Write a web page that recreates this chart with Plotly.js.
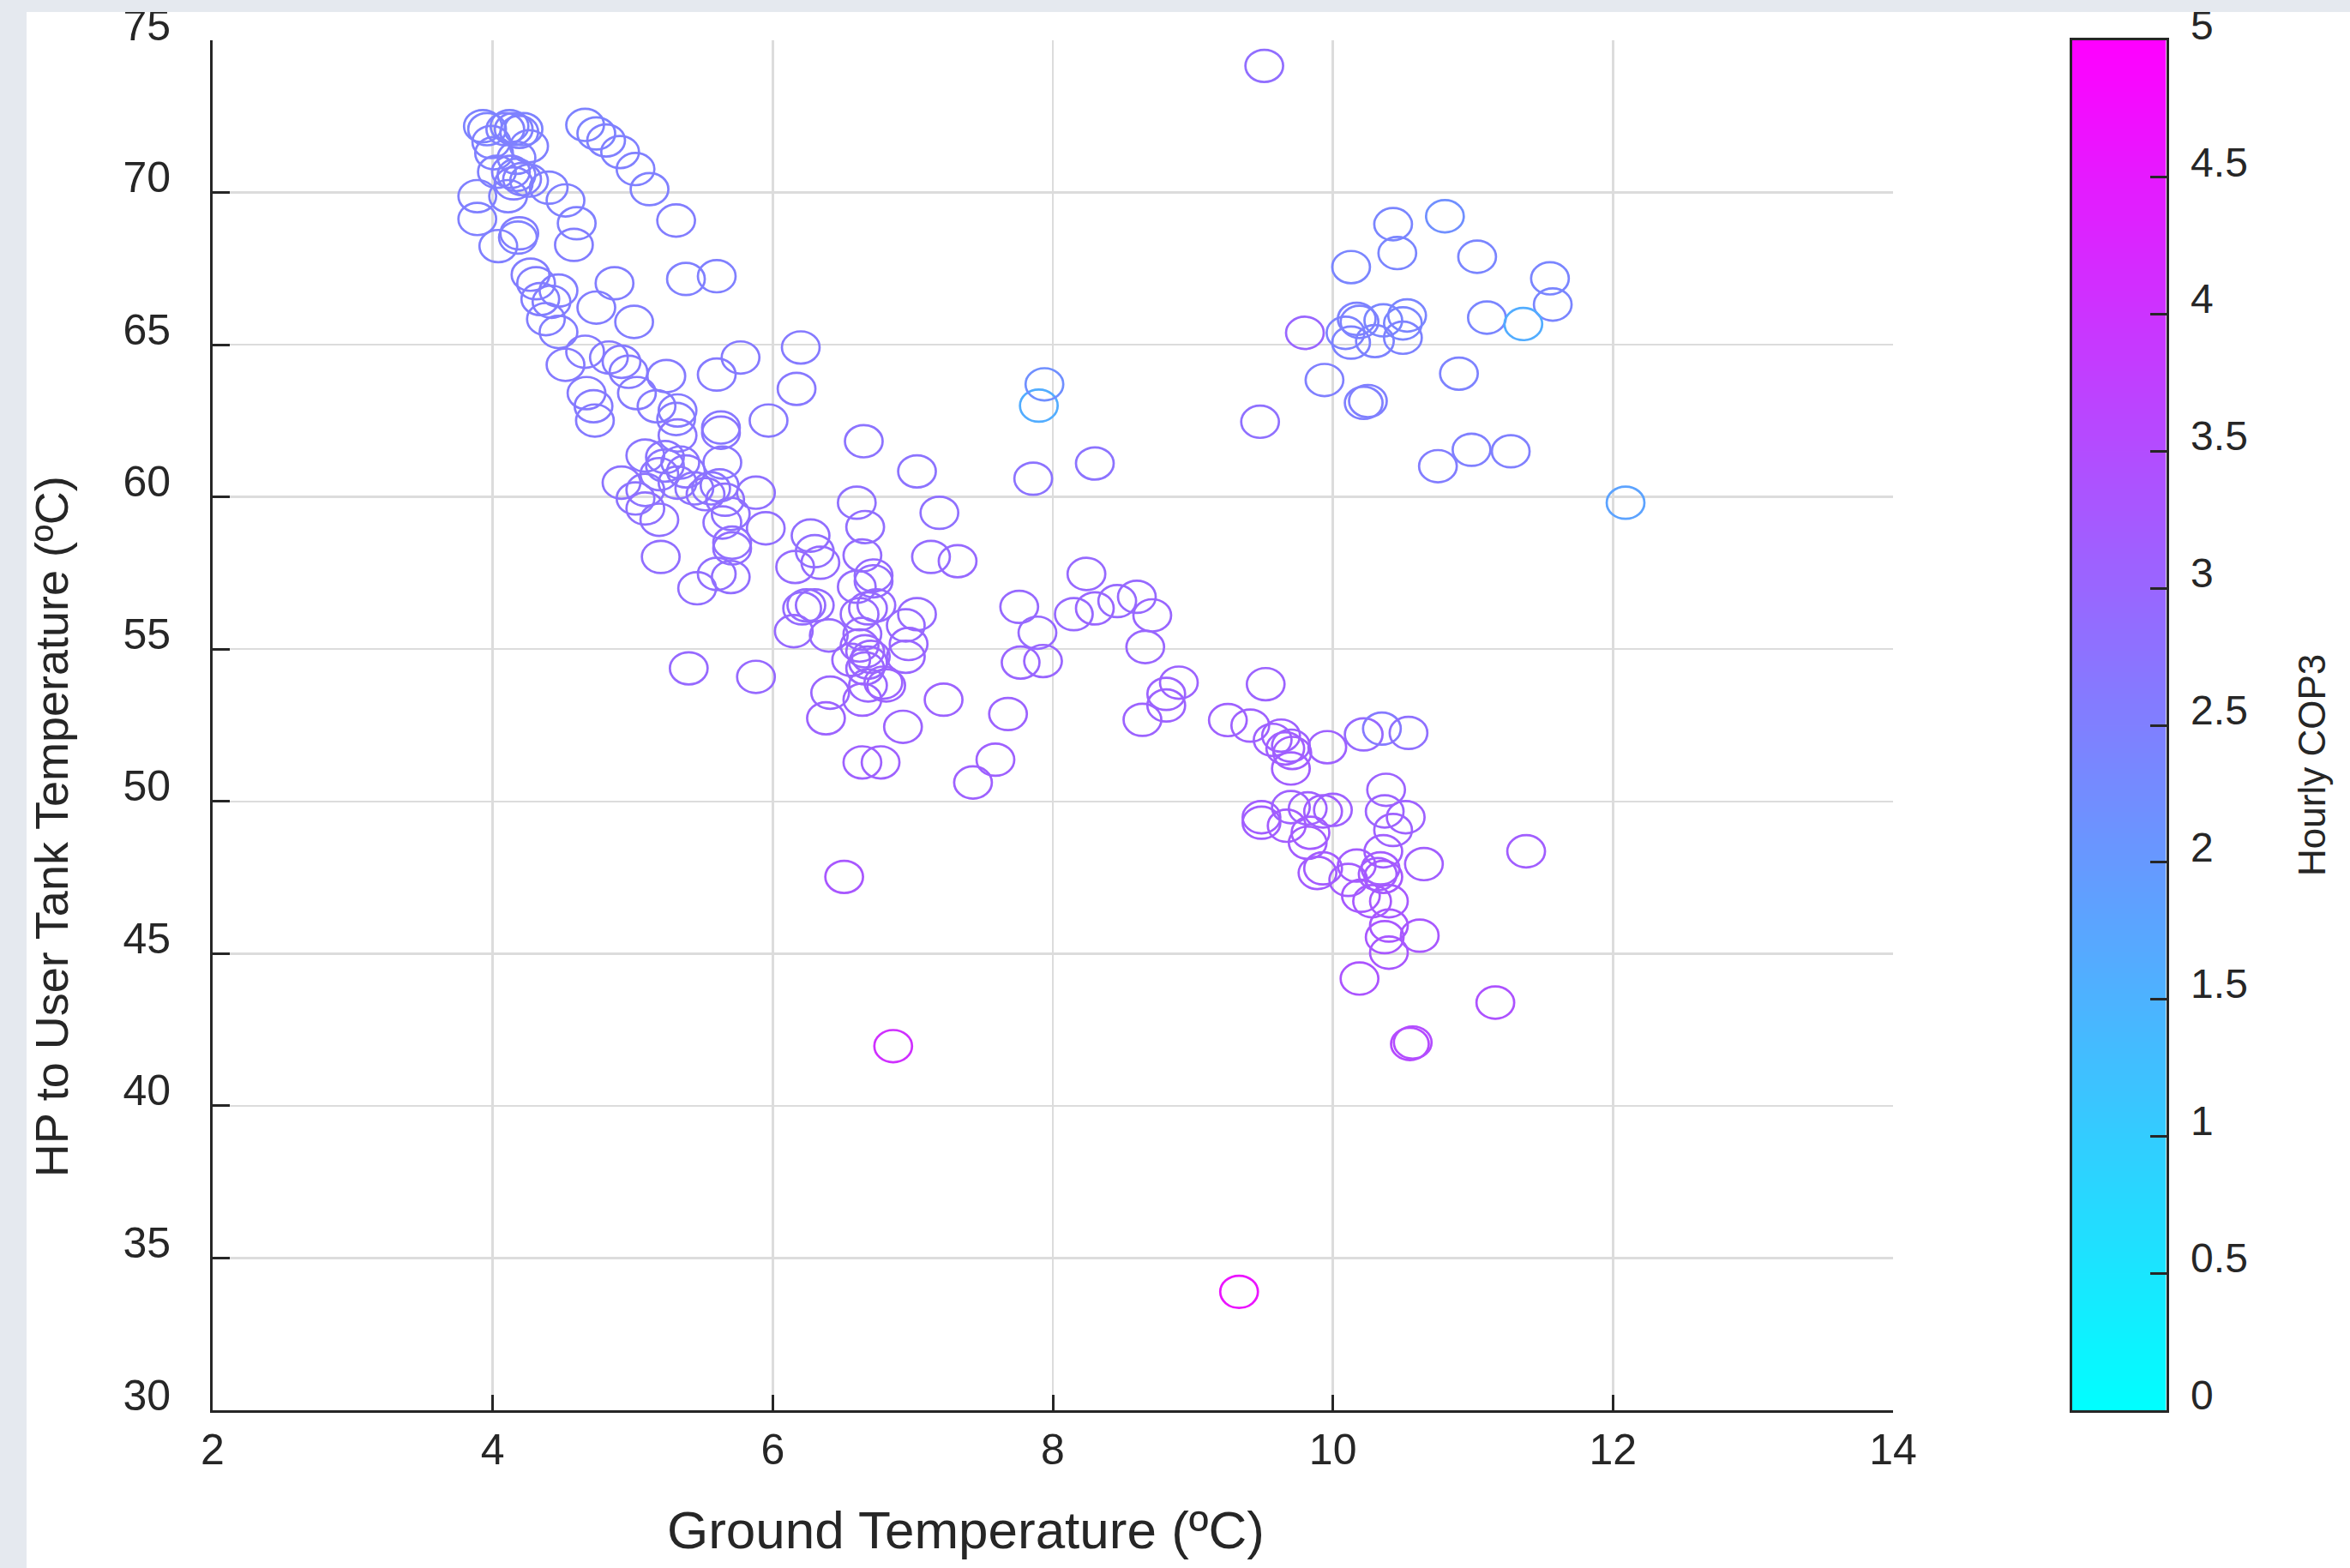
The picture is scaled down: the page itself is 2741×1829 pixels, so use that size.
<!DOCTYPE html>
<html>
<head>
<meta charset="utf-8">
<script src="https://cdn.plot.ly/plotly-3.0.1.min.js"></script>
<style>
  html, body { margin: 0; padding: 0; width: 2741px; height: 1829px; overflow: hidden; background: #e5e9ef; }
  #chart { position: absolute; left: 31px; top: 14px; width: 2710px; height: 1815px; background: #ffffff; }
</style>
</head>
<body>
<div id="chart"></div>
<script>
// Ground temperature (ºC)
const groundTemp = [
  3.93,3.96,4.09,4.12,4.15,4.19,4.22,3.99,4.26,4.01,4.17,4.03,4.13,4.17,4.21,4.26,4.15,3.89,4.11,4.40,
  4.52,3.89,4.19,4.18,4.04,4.60,4.58,4.66,4.74,4.81,4.91,5.02,5.12,5.31,5.38,5.60,4.27,4.31,4.47,4.34,
  4.42,4.38,4.47,4.74,4.87,5.01,4.66,4.83,4.92,4.52,4.97,5.03,5.24,5.17,5.32,5.31,4.67,4.72,4.73,5.60,
  5.77,6.20,6.17,5.63,5.97,
  5.32,5.63,6.65,5.09,5.23,5.34,7.03,4.92,5.02,5.09,5.09,5.19,5.23,5.32,5.38,5.44,5.52,5.56,5.62,5.64,
  5.66,5.70,5.88,5.95,5.64,5.71,5.71,5.19,5.20,5.60,5.70,5.46,5.40,5.88,
  7.86,8.30,6.60,6.66,7.19,6.27,6.30,6.34,6.16,6.64,7.13,7.32,6.60,6.72,6.72,6.24,6.21,6.30,6.15,6.40,
  6.68,6.62,6.74,7.03,6.95,6.64,6.62,6.66,6.70,6.56,6.97,6.95,6.68,6.66,6.79,6.81,6.68,6.41,6.64,6.38,
  6.93,7.22,6.64,6.77,7.43,7.59,7.68,7.76,7.89,7.77,7.93,8.24,8.15,8.30,8.46,8.60,8.71,8.66,8.90,8.81,
  8.81,8.64,6.51,
  9.52,9.25,9.41,9.57,9.63,9.66,9.70,9.70,9.71,9.96,10.22,10.35,10.54,10.38,10.37,10.52,10.43,10.36,10.65,9.49,
  9.49,9.70,9.82,9.93,10.00,9.67,9.84,9.82,9.93,9.89,10.17,10.11,10.20,10.28,10.40,10.32,10.34,10.36,10.40,10.37,
  10.62,10.40,10.19,11.38,11.16,10.55,10.57,
  9.51,10.43,10.80,10.46,10.13,11.03,11.55,11.57,11.10,11.36,9.80,10.09,10.13,10.17,10.19,10.36,10.30,10.50,10.53,10.50,
  9.94,10.22,10.25,10.90,9.48,10.75,10.99,11.27,12.09,
  7.90,7.94,6.86,9.33
];

// HP to user tank temperature (ºC)
const tankTemp = [
  72.18,72.08,72.08,72.18,72.08,71.99,72.08,71.66,71.52,71.29,71.14,70.68,70.68,70.58,70.44,70.39,70.30,69.88,69.88,70.16,
  69.74,69.13,68.66,68.52,68.24,68.99,68.28,72.22,71.94,71.71,71.33,70.77,70.11,69.08,67.16,67.25,67.30,67.02,66.78,66.50,
  66.41,65.84,65.42,66.22,67.02,65.75,64.77,64.58,64.44,64.34,64.11,63.41,63.97,62.98,62.84,62.56,63.41,62.98,62.51,64.02,
  64.58,64.91,63.55,62.28,62.51,
  62.02,62.11,61.83,61.36,61.31,61.13,60.84,60.47,59.95,60.23,59.62,60.75,61.03,60.47,60.84,60.28,60.09,60.28,60.38,61.13,
  59.91,59.44,60.14,58.97,59.16,58.50,58.31,59.25,58.03,57.47,57.37,57.00,54.37,54.09,
  60.60,61.10,59.81,59.01,59.48,58.73,58.22,57.84,57.70,58.08,58.03,57.89,57.05,57.42,57.23,56.44,56.34,56.44,55.59,55.45,
  56.34,56.15,56.44,56.15,55.78,55.50,55.12,54.93,54.75,54.65,55.17,54.75,54.56,54.37,53.90,53.81,53.81,53.57,53.34,52.73,
  52.45,53.34,51.28,51.28,50.62,51.37,52.87,56.39,55.54,54.56,54.61,57.47,56.15,56.34,56.58,56.72,56.11,55.07,53.90,53.53,
  53.15,52.68,47.52,
  53.85,52.67,52.49,52.02,52.16,51.74,51.83,51.08,51.59,51.78,52.20,52.39,52.25,50.38,49.67,49.48,49.06,48.36,47.94,49.48,
  49.30,49.81,49.77,49.67,49.72,49.20,48.97,48.64,47.80,47.65,47.89,47.42,46.90,46.72,46.72,47.61,47.80,47.52,45.92,45.54,
  45.59,45.03,44.18,48.36,43.39,42.03,42.08,
  74.16,68.96,69.22,68.01,67.55,67.89,67.18,66.32,65.89,65.68,65.39,65.39,65.07,65.85,65.75,65.80,65.12,65.70,65.96,65.23,
  63.84,63.09,63.15,64.05,62.47,61.01,61.55,61.50,59.81,
  63.00,63.70,41.96,33.89
];

// Hourly COP3
const hourlyCOP3 = [
  2.45,2.45,2.50,2.45,2.50,2.50,2.45,2.50,2.50,2.50,2.50,2.50,2.55,2.50,2.55,2.50,2.55,2.50,2.50,2.50,
  2.50,2.50,2.55,2.50,2.50,2.50,2.55,2.45,2.45,2.50,2.50,2.50,2.50,2.55,2.50,2.50,2.55,2.55,2.55,2.55,
  2.55,2.55,2.55,2.55,2.55,2.55,2.60,2.60,2.60,2.60,2.60,2.60,2.60,2.60,2.60,2.60,2.60,2.60,2.60,2.60,
  2.60,2.60,2.65,2.65,2.65,
  2.70,2.70,2.75,2.70,2.70,2.70,2.75,2.75,2.75,2.75,2.80,2.75,2.70,2.75,2.75,2.75,2.80,2.75,2.75,2.70,
  2.80,2.80,2.80,2.85,2.80,2.85,2.85,2.80,2.85,2.85,2.85,2.85,2.95,2.95,
  2.75,2.75,2.80,2.85,2.80,2.85,2.85,2.90,2.90,2.90,2.90,2.95,2.90,2.90,2.90,2.90,2.90,2.90,2.95,2.95,
  2.95,2.95,2.95,2.95,2.95,2.95,3.00,3.00,3.00,3.00,3.00,3.00,3.00,3.00,3.05,3.05,3.00,3.00,3.05,3.05,
  3.05,3.05,3.10,3.10,3.10,3.10,3.05,2.95,2.95,3.00,3.00,2.95,2.95,3.00,2.95,2.95,3.00,3.00,3.05,3.05,
  3.05,3.05,3.30,
  3.05,3.10,3.10,3.10,3.10,3.15,3.10,3.15,3.15,3.10,2.95,2.60,2.80,3.05,3.05,3.10,3.10,3.15,3.15,3.15,
  3.15,3.10,3.10,3.15,3.10,3.20,3.20,3.20,3.20,3.20,3.20,3.20,3.25,3.25,3.25,3.20,3.20,3.25,3.30,3.30,
  3.30,3.30,3.35,3.15,3.40,3.55,3.50,
  2.85,2.40,2.20,2.40,2.40,2.40,2.40,2.40,2.40,1.60,3.00,2.45,2.45,2.45,2.45,2.40,2.45,2.40,2.40,2.45,
  2.50,2.50,2.50,2.45,2.80,2.55,2.50,2.50,1.80,
  1.60,2.20,4.05,4.60
];

const xTicks = [2, 4, 6, 8, 10, 12, 14];
const yTicks = [30, 35, 40, 45, 50, 55, 60, 65, 70, 75];
const cbTicks = [0, 0.5, 1, 1.5, 2, 2.5, 3, 3.5, 4, 4.5, 5];

const FONT = 'Liberation Sans, Arial, Helvetica, sans-serif';
const INK = '#262626';
const COOL = [[0, 'rgb(0,255,255)'], [1, 'rgb(255,0,255)']];

// plot area in div pixels: left 217, width 2473 (main axes use the first 1960 px)
const PW = 2473;

const scatter = {
  type: 'scatter',
  mode: 'markers',
  x: groundTemp,
  y: tankTemp,
  xaxis: 'x', yaxis: 'y',
  hoverinfo: 'skip',
  marker: {
    symbol: 'circle-open',
    size: 40,
    color: hourlyCOP3,
    cmin: 0,
    cmax: 5,
    colorscale: COOL,
    line: { width: 2.7 },
    showscale: false
  }
};

// colour bar drawn as a small heatmap on its own axes
const colorBar = {
  type: 'heatmap',
  x: [0, 1],
  y: cbTicks,
  z: cbTicks.map(function (v) { return [v, v]; }),
  zmin: 0, zmax: 5,
  zsmooth: 'best',
  colorscale: COOL,
  showscale: false,
  hoverinfo: 'skip',
  xaxis: 'x2', yaxis: 'y2'
};

const axisTickFont = { family: FONT, size: 50, color: INK };

const layout = {
  width: 2710,
  height: 1815,
  paper_bgcolor: '#ffffff',
  plot_bgcolor: 'rgba(0,0,0,0)',
  margin: { l: 217, r: 20, t: 33, b: 184, pad: 0 },
  showlegend: false,
  font: { family: FONT, color: INK },
  xaxis: {
    domain: [0, 1960 / PW],
    anchor: 'y',
    range: [2, 14],
    tickvals: xTicks,
    ticktext: xTicks.map(String),
    showline: true, linecolor: INK, linewidth: 3, mirror: false,
    ticks: 'inside', ticklen: 18, tickwidth: 3, tickcolor: INK,
    showgrid: true, gridcolor: '#dcdcdc', gridwidth: 2.5,
    zeroline: false,
    tickfont: axisTickFont,
    ticklabelstandoff: 0,
    ticklabeloverflow: 'allow'
  },
  yaxis: {
    domain: [0, 1],
    anchor: 'x',
    range: [30, 75],
    tickvals: yTicks,
    ticktext: yTicks.map(String),
    showline: true, linecolor: INK, linewidth: 3, mirror: false,
    ticks: 'inside', ticklen: 20, tickwidth: 3, tickcolor: INK,
    showgrid: true, gridcolor: '#dcdcdc', gridwidth: 2.5,
    zeroline: false,
    tickfont: axisTickFont,
    ticklabelshift: -18,
    ticklabelstandoff: 36,
    ticklabeloverflow: 'allow'
  },
  xaxis2: {
    domain: [2168.5 / PW, 2278.5 / PW],
    anchor: 'y2',
    range: [0, 1],
    showticklabels: false, ticks: '',
    showgrid: false, zeroline: false,
    showline: true, mirror: true, linecolor: INK, linewidth: 3
  },
  yaxis2: {
    domain: [0, 1],
    anchor: 'x2',
    side: 'right',
    range: [0, 5],
    tickvals: cbTicks,
    ticktext: cbTicks.map(String),
    showgrid: false, zeroline: false,
    showline: true, mirror: true, linecolor: INK, linewidth: 3,
    ticks: 'inside', ticklen: 19, tickwidth: 3, tickcolor: INK,
    tickfont: { family: FONT, size: 48, color: INK },
    ticklabelshift: -18,
    ticklabelstandoff: 16,
    ticklabeloverflow: 'allow'
  },
  annotations: [
    { text: 'Ground Temperature (ºC)', xref: 'paper', yref: 'paper', x: (1126 - 248) / PW, y: -0.0876,
      xanchor: 'center', yanchor: 'middle', showarrow: false,
      font: { family: FONT, size: 62, color: INK } },
    { text: 'HP to User Tank Temperature (ºC)', xref: 'paper', yref: 'paper', x: (60 - 248) / PW, y: 0.426,
      xanchor: 'center', yanchor: 'middle', showarrow: false, textangle: -90,
      font: { family: FONT, size: 54, color: INK } },
    { text: 'Hourly COP3', xref: 'paper', yref: 'paper', x: (2697 - 248) / PW, y: 0.4706,
      xanchor: 'center', yanchor: 'middle', showarrow: false, textangle: -90,
      font: { family: FONT, size: 44, color: INK } }
  ]
};

Plotly.newPlot('chart', [colorBar, scatter], layout, { displayModeBar: false, staticPlot: true }).then(function () {
  // draw the circles slightly elliptical, as in the reference
  document.querySelectorAll('.scatterlayer .point').forEach(function (p) {
    const t = p.getAttribute('transform') || '';
    p.setAttribute('transform', t + ' scale(1.1,0.94)');
    p.style.vectorEffect = 'non-scaling-stroke';
  });
});
</script>
</body>
</html>
